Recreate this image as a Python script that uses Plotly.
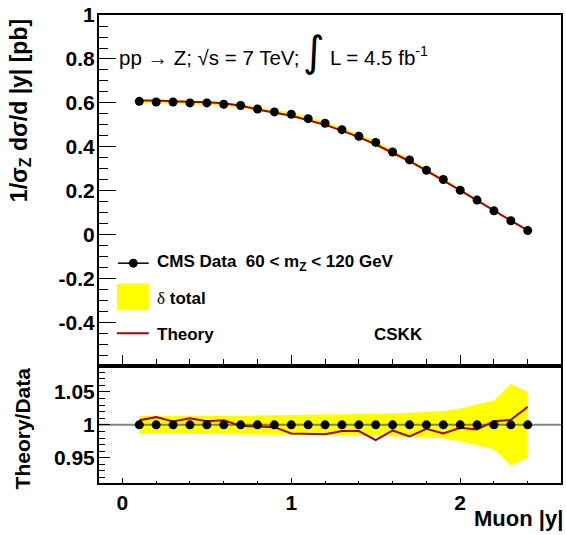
import plotly.graph_objects as go

# Muon |y| bin centres
muon_y = [0.1, 0.2, 0.3, 0.4, 0.5, 0.6, 0.7, 0.8, 0.9, 1.0, 1.1, 1.2,
          1.3, 1.4, 1.5, 1.6, 1.7, 1.8, 1.9, 2.0, 2.1, 2.2, 2.3, 2.4]

# Normalised CMS data, 1/sigma dsigma/d|y|
cms_data = [0.607, 0.604, 0.604, 0.600, 0.600, 0.594, 0.588, 0.572,
            0.559, 0.548, 0.528, 0.507, 0.478, 0.448, 0.420, 0.376,
            0.340, 0.293, 0.251, 0.202, 0.157, 0.108, 0.063, 0.018]

# Relative total uncertainty (delta total)
delta_total = [0.0135, 0.0135, 0.0135, 0.0136, 0.0137, 0.0138, 0.0140, 0.0142,
               0.0145, 0.0148, 0.0150, 0.0155, 0.0160, 0.0163, 0.0167, 0.0172,
               0.0180, 0.0195, 0.0205, 0.0250, 0.0310, 0.0370, 0.0620, 0.0500]

# Theory / Data ratio (CSKK)
theory_ratio = [1.007, 1.0117, 1.005, 1.010, 1.0056, 1.007, 0.9985, 0.997,
                0.9965, 0.987, 0.9864, 0.9856, 0.9905, 0.9905, 0.9768, 0.9915,
                0.9824, 0.994, 0.987, 0.9955, 0.993, 1.0056, 1.0076, 1.0273]

top_ticks = [-0.4, -0.2, 0, 0.2, 0.4, 0.6, 0.8, 1]
top_ticktext = ["-0.4", "-0.2", "0", "0.2", "0.4", "0.6", "0.8", "1"]
ratio_ticks = [0.95, 1, 1.05]
ratio_ticktext = ["0.95", "1", "1.05"]
x_ticks = [0, 1, 2]
x_ticktext = ["0", "1", "2"]

X_RANGE = [-0.1386, 2.597]
TOP_RANGE = [-0.588, 1.0005]
RATIO_RANGE = [0.9117, 1.0864]

W, H = 566, 535
ML, MR, MT, MB = 99, 3, 14, 52
PW, PH = W - ML - MR, H - MT - MB

def px(x):
    return (x - ML) / PW

def py(y):
    return (H - MB - y) / PH

FONT = "Liberation Sans"
YELLOW = "#ffff00"
RED = "#a80000"

theory = [d * r for d, r in zip(cms_data, theory_ratio)]
band_hi = [d * (1 + e) for d, e in zip(cms_data, delta_total)]
band_lo = [d * (1 - e) for d, e in zip(cms_data, delta_total)]
ratio_hi = [1 + e for e in delta_total]
ratio_lo = [1 - e for e in delta_total]
ones = [1.0 for _ in muon_y]

fig = go.Figure()

# upper panel
fig.add_trace(go.Scatter(x=muon_y + muon_y[::-1], y=band_hi + band_lo[::-1],
                         fill="toself", fillcolor=YELLOW, line=dict(width=0),
                         mode="lines", hoverinfo="skip", xaxis="x", yaxis="y"))
fig.add_trace(go.Scatter(x=muon_y, y=theory, mode="lines",
                         line=dict(color=RED, width=2), xaxis="x", yaxis="y"))
fig.add_trace(go.Scatter(x=muon_y, y=cms_data, mode="markers",
                         marker=dict(color="black", size=9), xaxis="x", yaxis="y"))

# ratio panel
fig.add_trace(go.Scatter(x=muon_y + muon_y[::-1], y=ratio_hi + ratio_lo[::-1],
                         fill="toself", fillcolor=YELLOW, line=dict(width=0),
                         mode="lines", hoverinfo="skip", xaxis="x2", yaxis="y2"))
fig.add_trace(go.Scatter(x=X_RANGE, y=[1, 1], mode="lines",
                         line=dict(color="rgba(90,90,90,0.75)", width=2),
                         xaxis="x2", yaxis="y2"))
fig.add_trace(go.Scatter(x=muon_y, y=theory_ratio, mode="lines",
                         line=dict(color=RED, width=2), xaxis="x2", yaxis="y2"))
fig.add_trace(go.Scatter(x=muon_y, y=ones, mode="markers",
                         marker=dict(color="black", size=9), xaxis="x2", yaxis="y2"))

tickfont = dict(family=FONT, size=21, color="black", weight="bold")
top_bottom = py(363.3)
ratio_top = py(367.7)

axis_common = dict(showline=True, linecolor="black", linewidth=2, mirror=True,
                   showgrid=False, zeroline=False, ticks="inside",
                   tickcolor="black", tickwidth=1)

fig.update_layout(
    width=W, height=H, margin=dict(l=ML, r=MR, t=MT, b=MB),
    paper_bgcolor="white", plot_bgcolor="white", showlegend=False,
    xaxis=dict(domain=[0, 1], anchor="y", range=X_RANGE, tickmode="array",
               tickvals=x_ticks, showticklabels=False, ticklen=9,
               minor=dict(tickmode="linear", tick0=0, dtick=0.2, ticks="inside",
                          ticklen=4.5, tickcolor="black", tickwidth=1),
               **axis_common),
    yaxis=dict(domain=[top_bottom, 1], anchor="x", range=TOP_RANGE,
               tickmode="array", tickvals=top_ticks, ticktext=top_ticktext,
               tickfont=tickfont, ticklen=17, ticklabelstandoff=-2,
               minor=dict(tickmode="linear", tick0=0, dtick=0.05, ticks="inside",
                          ticklen=8.5, tickcolor="black", tickwidth=1),
               **axis_common),
    xaxis2=dict(domain=[0, 1], anchor="y2", range=X_RANGE, tickmode="array",
                tickvals=x_ticks, ticktext=x_ticktext, tickfont=tickfont,
                ticklen=5,
                minor=dict(tickmode="linear", tick0=0, dtick=0.2, ticks="inside",
                           ticklen=2.5, tickcolor="black", tickwidth=1),
                **axis_common),
    yaxis2=dict(domain=[0, ratio_top], anchor="x2", range=RATIO_RANGE,
                tickmode="array", tickvals=ratio_ticks, ticktext=ratio_ticktext,
                tickfont=tickfont, ticklen=10.5, ticklabelstandoff=-2,
                minor=dict(tickmode="linear", tick0=0, dtick=0.01, ticks="inside",
                           ticklen=6, tickcolor="black", tickwidth=1),
                **axis_common),
)

bold = dict(family=FONT, size=17, color="black", weight="bold")
regular = dict(family=FONT, size=20.5, color="black")

annotations = [
    # axis titles
    dict(x=px(20), y=py(110), text="1/σ<sub>Z</sub> dσ/d |y| [pb]", textangle=-90,
         font=dict(family=FONT, size=23, color="black", weight="bold")),
    dict(x=px(22), y=py(428), text="Theory/Data", textangle=-90,
         font=dict(family=FONT, size=21, color="black", weight="bold")),
    dict(x=px(567), y=py(519), text="Muon |y|", xanchor="right",
         font=dict(family=FONT, size=22, color="black", weight="bold")),
    # process label
    dict(x=px(117), y=py(57), text="pp → Z; √s = 7 TeV;", xanchor="left",
         font=regular),
    dict(x=px(315), y=py(51), text="∫", font=dict(family="DejaVu Sans", size=42,
                                                   color="black")),
    dict(x=px(329), y=py(55), text="L = 4.5 fb<sup>-1</sup>", xanchor="left",
         font=regular),
    # legend
    dict(x=px(155), y=py(263), text="CMS Data  60 < m<sub>Z</sub> < 120 GeV",
         xanchor="left", font=bold),
    dict(x=px(155), y=py(298),
         text="<span style='font-family:Liberation Serif;font-weight:normal'>δ</span> total",
         xanchor="left", font=bold),
    dict(x=px(155), y=py(334), text="Theory", xanchor="left", font=bold),
    dict(x=px(373), y=py(334), text="CSKK", xanchor="left", font=bold),
]
for a in annotations:
    a.update(xref="paper", yref="paper", showarrow=False)
    a.setdefault("xanchor", "center")
    a.setdefault("yanchor", "middle")
fig.update_layout(annotations=annotations)

shapes = [
    dict(type="line", x0=px(118), x1=px(149), y0=py(262.7), y1=py(262.7),
         line=dict(color="black", width=1.5)),
    dict(type="circle", x0=px(129), x1=px(138), y0=py(258.2), y1=py(267.2),
         fillcolor="black", line=dict(color="black", width=0)),
    dict(type="rect", x0=px(117), x1=px(149), y0=py(310), y1=py(283),
         fillcolor=YELLOW, line=dict(width=0)),
    dict(type="line", x0=px(117), x1=px(149), y0=py(333), y1=py(333),
         line=dict(color=RED, width=2)),
]
for s in shapes:
    s.update(xref="paper", yref="paper")
fig.update_layout(shapes=shapes)

fig.write_html("out.html")
